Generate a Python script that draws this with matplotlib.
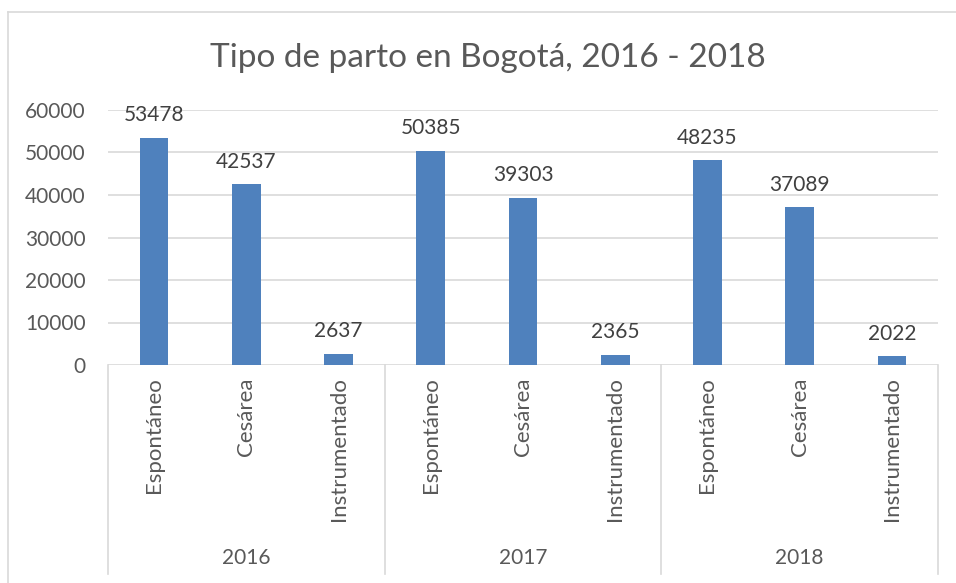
import matplotlib.pyplot as plt
from matplotlib.lines import Line2D
import numpy as np

plt.rcParams['font.family'] = ['Lato', 'DejaVu Sans']

# data
years = ['2016', '2017', '2018']
tipos = ['Espontáneo', 'Cesárea', 'Instrumentado']
valores = [53478, 42537, 2637,
           50385, 39303, 2365,
           48235, 37089, 2022]

fig = plt.figure(figsize=(9.56, 5.83), dpi=100)
ax = fig.add_axes([108/956, 1-365/583, (938-108)/956, (365-110)/583])

x = np.arange(len(valores))
ax.bar(x, valores, width=0.31, color='#4f81bd', zorder=3)

for xi, v in zip(x, valores):
    ax.annotate(str(v), (xi, v), xytext=(0, 9), textcoords='offset points',
                ha='center', va='bottom', fontsize=15, color='#404040')

ax.set_xlim(-0.5, len(valores) - 0.5)
ax.set_ylim(0, 60000)
ax.set_yticks(np.arange(0, 60001, 10000))
ax.yaxis.grid(True, color='#d9d9d9', linewidth=1.2, zorder=0)
ax.tick_params(axis='y', length=0, labelsize=15, labelcolor='#595959', pad=16)
for s in ax.spines.values():
    s.set_visible(False)

# category labels (rotated)
ax.set_xticks(x)
ax.set_xticklabels(tipos * len(years), rotation=90, va='top', ha='center')
ax.tick_params(axis='x', length=0, labelsize=16, labelcolor='#595959', pad=9)

# separators and year labels
trans = ax.get_xaxis_transform()
y_bot = (365 - 574) / 255
for b in np.arange(-0.5, len(valores), 3):
    ax.add_line(Line2D([b, b], [0, y_bot], transform=trans, color='#d9d9d9',
                       linewidth=1.2, clip_on=False))
for i, yr in enumerate(years):
    ax.text(i*3 + 1, (365 - 558) / 255, yr, transform=trans, ha='center',
            va='center', fontsize=15, color='#595959')

# chart border (left and top only visible)
fig.add_artist(Line2D([8/956, 8/956], [0, 1-12/583], color='#d9d9d9', linewidth=1.2))
fig.add_artist(Line2D([8/956, 1], [1-12/583, 1-12/583], color='#d9d9d9', linewidth=1.2))

fig.suptitle('Tipo de parto en Bogotá, 2016 - 2018', x=488/956, y=1-58/583,
             va='center', fontsize=24, color='#595959')

plt.savefig('out.png', dpi=100)
